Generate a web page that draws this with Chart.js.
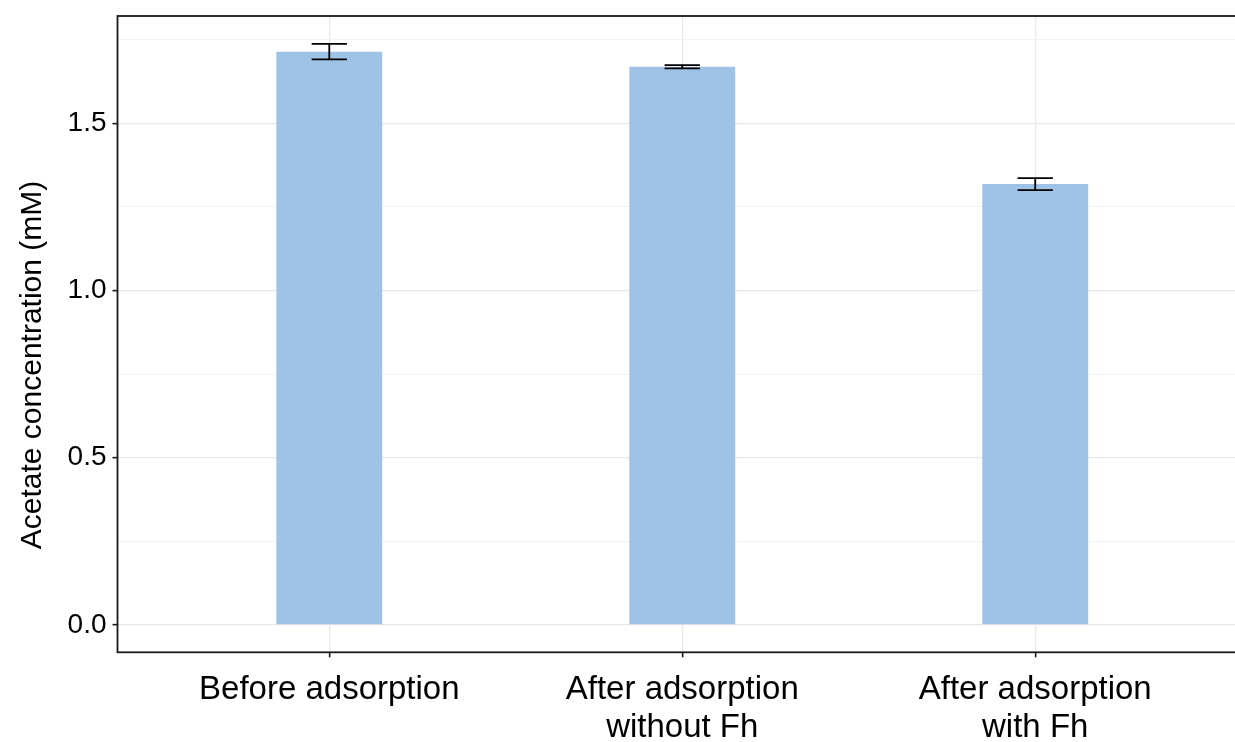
<!DOCTYPE html>
<html>
<head>
<meta charset="utf-8">
<script src="https://cdn.jsdelivr.net/npm/chart.js@4/dist/chart.umd.min.js"></script>
<style>
  html, body { margin: 0; padding: 0; background: #fff; overflow: hidden; }
  #wrap { position: relative; width: 1247px; height: 742px; }
</style>
</head>
<body>
<div id="wrap"><canvas id="c"></canvas></div>
<script>
// Treatments, their positions on the axis, and measured acetate (mean ± error)
const categories = [["Before adsorption"], ["After adsorption", "without Fh"], ["After adsorption", "with Fh"]];
const positions = [1, 2, 3];
const acetateMean = [1.714, 1.669, 1.318];
const acetateErr = [0.023, 0.005, 0.018];
const yMajorTicks = [0, 0.5, 1.0, 1.5];
const yMinorTicks = [0.25, 0.75, 1.25, 1.75];
const yTitle = "Acetate concentration (mM)";

const FONT = "'Liberation Sans', Arial, Helvetica, sans-serif";
const INK = "#000000";
const FRAME = "#1a1a1a";

// Error bars with caps, drawn through the chart's own scales
const errorBars = {
  id: "errorBars",
  afterDatasetsDraw(chart) {
    const { ctx } = chart;
    const xs = chart.scales.x, ys = chart.scales.y;
    ctx.save();
    ctx.strokeStyle = "#000";
    ctx.lineWidth = 1.8;
    positions.forEach((p, i) => {
      const x = xs.getPixelForValue(p);
      const xl = xs.getPixelForValue(p - 0.05);
      const xr = xs.getPixelForValue(p + 0.05);
      const yt = ys.getPixelForValue(acetateMean[i] + acetateErr[i]);
      const yb = ys.getPixelForValue(acetateMean[i] - acetateErr[i]);
      ctx.beginPath();
      ctx.moveTo(x, yt); ctx.lineTo(x, yb);
      ctx.moveTo(xl, yt); ctx.lineTo(xr, yt);
      ctx.moveTo(xl, yb); ctx.lineTo(xr, yb);
      ctx.stroke();
    });
    ctx.restore();
  }
};

// Panel frame and rotated y-axis title
const panelFrame = {
  id: "panelFrame",
  afterDraw(chart) {
    const { ctx, chartArea: a } = chart;
    ctx.save();
    ctx.strokeStyle = FRAME;
    ctx.lineWidth = 1.8;
    ctx.strokeRect(a.left, a.top, a.right - a.left, a.bottom - a.top);
    ctx.translate(33, 365);
    ctx.rotate(-Math.PI / 2);
    ctx.fillStyle = INK;
    ctx.font = "30px " + FONT;
    ctx.textAlign = "center";
    ctx.textBaseline = "middle";
    ctx.fillText(yTitle, 0, 0);
    ctx.restore();
  }
};

new Chart(document.getElementById("c"), {
  type: "bar",
  data: {
    datasets: [{
      data: positions.map((p, i) => ({ x: p, y: acetateMean[i] })),
      backgroundColor: "#9FC3E7",
      borderWidth: 0,
      categoryPercentage: 1.0,
      barPercentage: 0.3
    }]
  },
  options: {
    responsive: true,
    maintainAspectRatio: false,
    animation: false,
    layout: { padding: { top: 16, left: 0, right: 0, bottom: 0 } },
    plugins: { legend: { display: false }, tooltip: { enabled: false } },
    scales: {
      x: {
        type: "linear",
        min: 0.4,
        max: 3.6,
        offset: false,
        afterBuildTicks(scale) { scale.ticks = positions.map(v => ({ value: v })); },
        afterFit(scale) {
          scale.height = 89.7;
          scale.paddingLeft = 0;
          scale.paddingRight = 0;
        },
        border: { display: false },
        grid: {
          offset: false,
          color: "#e8e8e8",
          lineWidth: 1.3,
          tickLength: 5,
          tickColor: FRAME,
          tickWidth: 1.6
        },
        ticks: {
          autoSkip: false,
          maxRotation: 0,
          padding: 14,
          color: INK,
          font: { family: FONT, size: 33, lineHeight: 1.15 },
          callback(value) {
            const i = positions.indexOf(value);
            return i >= 0 ? categories[i] : "";
          }
        }
      },
      y: {
        type: "linear",
        min: -0.0817,
        max: 1.8206,
        afterBuildTicks(scale) {
          scale.ticks = yMajorTicks.concat(yMinorTicks).sort((a, b) => a - b).map(v => ({ value: v }));
        },
        afterFit(scale) {
          scale.width = 117.5;
          scale.paddingTop = 0;
          scale.paddingBottom = 0;
        },
        border: { display: false },
        grid: {
          color: (c) => yMajorTicks.includes(c.tick.value) ? "#e8e8e8" : "#f2f2f2",
          lineWidth: (c) => yMajorTicks.includes(c.tick.value) ? 1.3 : 1.0,
          tickLength: 5,
          tickColor: (c) => yMajorTicks.includes(c.tick.value) ? FRAME : "rgba(0,0,0,0)",
          tickWidth: 1.6
        },
        ticks: {
          autoSkip: false,
          padding: 6,
          color: INK,
          font: { family: FONT, size: 28 },
          callback(value) { return yMajorTicks.includes(value) ? value.toFixed(1) : ""; }
        }
      }
    }
  },
  plugins: [errorBars, panelFrame]
});
</script>
</body>
</html>
